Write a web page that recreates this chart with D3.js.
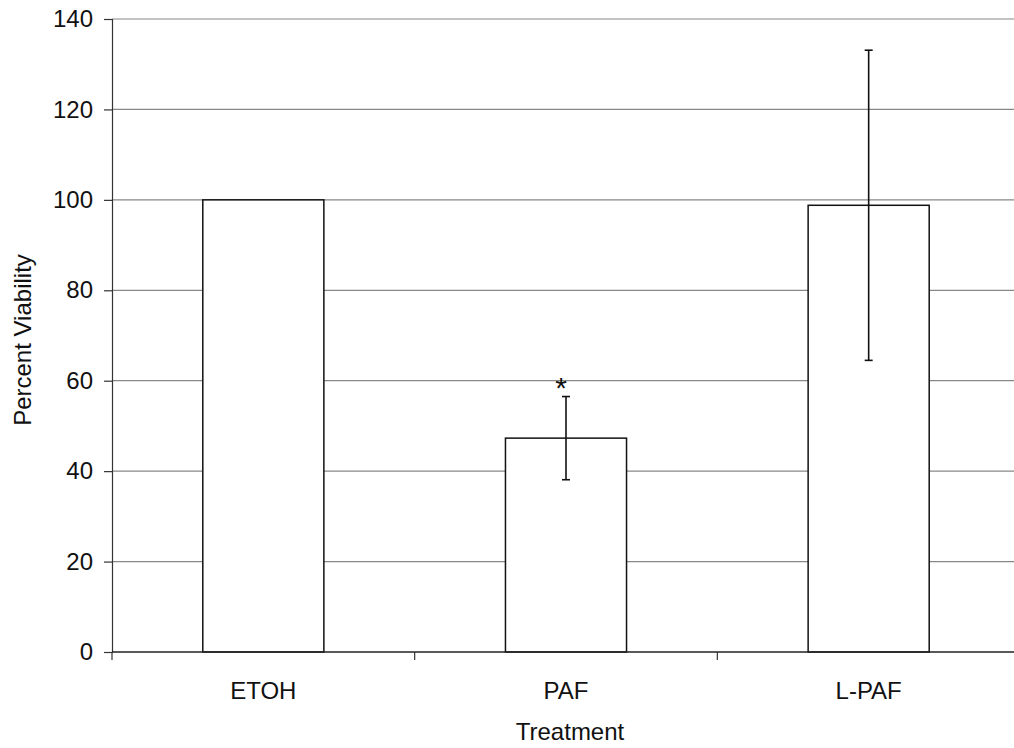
<!DOCTYPE html>
<html>
<head>
<meta charset="utf-8">
<script src="https://cdn.jsdelivr.net/npm/d3@7"></script>
<style>
  body { margin: 0; background: #fff; }
  svg { display: block; font-family: "Liberation Sans", Arial, sans-serif; }
</style>
</head>
<body>
<div id="chart"></div>
<script>
const categories = ["ETOH", "PAF", "L-PAF"];
const values = [100, 47.3, 98.8];
const errors = [0, 9.2, 34.3];
const significant = [false, true, false];
const yTicks = [0, 20, 40, 60, 80, 100, 120, 140];

const width = 1014, height = 748;
const margin = { left: 112, right: -6, top: 19, bottom: 96 };
const fontSize = "24px";

const svg = d3.select("#chart").append("svg")
  .attr("width", width)
  .attr("height", height);

let x = d3.scaleBand()
  .domain(categories)
  .range([margin.left, width - margin.right])
  .paddingInner(0)
  .paddingOuter(0);

let y = d3.scaleLinear()
  .domain([0, 140])
  .range([height - margin.bottom, margin.top]);

// gridlines
svg.append("g")
  .selectAll("line")
  .data(yTicks.filter(d => d > 0))
  .enter().append("line")
  .attr("x1", margin.left)
  .attr("x2", width)
  .attr("y1", d => y(d))
  .attr("y2", d => y(d))
  .attr("stroke", "#888")
  .attr("stroke-width", 1.2);

// y axis
const yAxis = svg.append("g")
  .attr("transform", `translate(${margin.left},0)`)
  .call(d3.axisLeft(y).tickValues(yTicks).tickSize(8).tickPadding(11));
yAxis.select(".domain").attr("stroke", "#333").attr("stroke-width", 1.2);
yAxis.selectAll(".tick line").attr("stroke", "#333").attr("stroke-width", 1.2);
yAxis.selectAll("text")
  .style("font-size", fontSize)
  .style("font-family", "Liberation Sans, Arial, sans-serif")
  .attr("fill", "#111");

// bars
svg.append("g")
  .selectAll("rect")
  .data(categories)
  .enter().append("rect")
  .attr("x", d => x(d) + x.bandwidth() * 0.3)
  .attr("width", x.bandwidth() * 0.4)
  .attr("y", (d, i) => y(values[i]))
  .attr("height", (d, i) => y(0) - y(values[i]))
  .attr("fill", "#fff")
  .attr("stroke", "#111")
  .attr("stroke-width", 1.5);

// error bars
const err = svg.append("g");
categories.forEach((c, i) => {
  if (!errors[i]) return;
  const cx = x(c) + x.bandwidth() / 2;
  err.append("line")
    .attr("x1", cx).attr("x2", cx)
    .attr("y1", y(values[i] + errors[i]))
    .attr("y2", y(values[i] - errors[i]))
    .attr("stroke", "#111").attr("stroke-width", 1.6);
  [values[i] + errors[i], values[i] - errors[i]].forEach(v => {
    err.append("line")
      .attr("x1", cx - 4).attr("x2", cx + 4)
      .attr("y1", y(v)).attr("y2", y(v))
      .attr("stroke", "#111").attr("stroke-width", 1.6);
  });
  if (significant[i]) {
    err.append("text")
      .attr("x", cx - 5)
      .attr("y", y(values[i] + errors[i]) + 1)
      .attr("text-anchor", "middle")
      .style("font-size", "30px")
      .attr("fill", "#111")
      .text("*");
  }
});

// x axis
const xAxis = svg.append("g")
  .attr("transform", `translate(0,${y(0)})`);
xAxis.append("line")
  .attr("x1", margin.left).attr("x2", width)
  .attr("y1", 0).attr("y2", 0)
  .attr("stroke", "#222").attr("stroke-width", 1.6);
xAxis.selectAll(".xtick")
  .data(categories)
  .enter().append("line")
  .attr("x1", d => x(d)).attr("x2", d => x(d))
  .attr("y1", 0).attr("y2", 8)
  .attr("stroke", "#333").attr("stroke-width", 1.2);
xAxis.selectAll(".xlabel")
  .data(categories)
  .enter().append("text")
  .attr("x", d => x(d) + x.bandwidth() / 2)
  .attr("y", 47)
  .attr("text-anchor", "middle")
  .style("font-size", fontSize)
  .attr("fill", "#111")
  .text(d => d);

// axis titles
svg.append("text")
  .attr("x", 570)
  .attr("y", 740)
  .attr("text-anchor", "middle")
  .style("font-size", fontSize)
  .attr("fill", "#111")
  .text("Treatment");

svg.append("text")
  .attr("transform", `translate(31,340) rotate(-90)`)
  .attr("text-anchor", "middle")
  .style("font-size", fontSize)
  .attr("fill", "#111")
  .text("Percent Viability");
</script>
</body>
</html>
